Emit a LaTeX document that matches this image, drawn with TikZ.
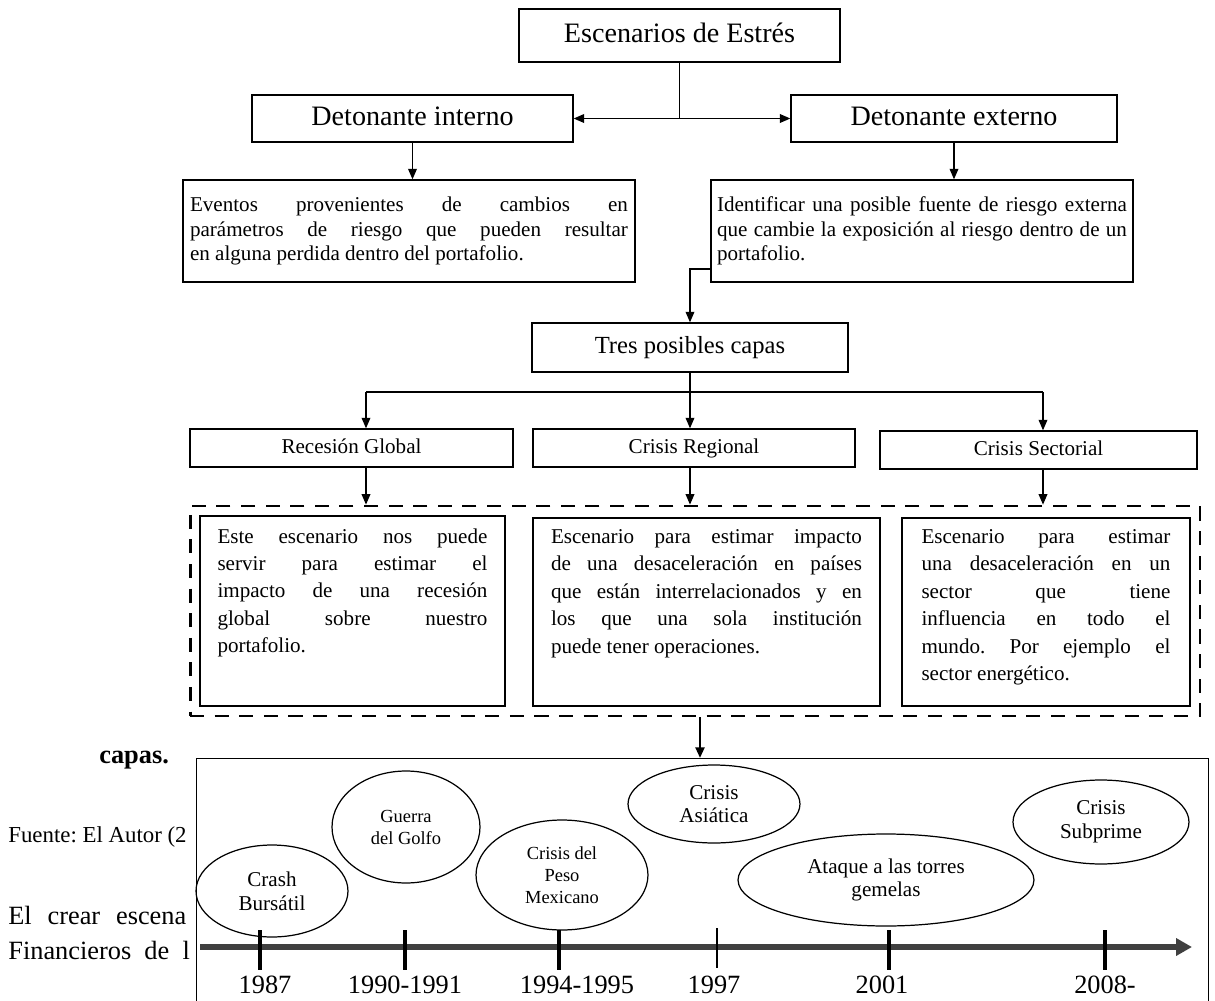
\documentclass[tikz,border=0pt]{standalone}
\usepackage{fontspec}
\setmainfont{Liberation Serif}
\usetikzlibrary{arrows.meta,shapes.geometric}
\newcommand{\justa}[1]{\makebox[\linewidth][s]{#1}\\}
\frenchspacing

\begin{document}
\begin{tikzpicture}[x=0.02cm, y=-0.02cm,
    caja/.style={draw, line width=0.8pt, inner sep=0pt, align=center},
    titulo/.style={caja, text height=11.5pt, text depth=3.5pt, font=\fontsize{16}{19}\selectfont},
    texto/.style={caja, font=\fontsize{12}{14}\selectfont},
    capa/.style={caja, minimum height=0.76cm, text height=8.5pt, text depth=2.5pt, font=\fontsize{12}{14}\selectfont},
    escenario/.style={caja, font=\fontsize{12}{15.6}\selectfont},
    elipse/.style={draw, ellipse, line width=0.7pt, inner sep=0pt, align=center, font=\fontsize{12}{13.5}\selectfont},
    flecha/.style={line width=0.7pt, -{Triangle[length=6pt,width=5pt]}},
    suelto/.style={anchor=west, inner sep=0pt}]
  \clip (0,0) rectangle (1215,1001);

  \node[titulo, minimum width=6.42cm, minimum height=1.06cm] (estres) at (679.5,35.5) {Escenarios de Estrés};
  \node[titulo, minimum width=6.42cm, minimum height=0.94cm] (interno) at (412.5,118.5) {Detonante interno};
  \node[titulo, minimum width=6.52cm, minimum height=0.94cm] (externo) at (954,118.5) {Detonante externo};
  \node[texto, minimum width=9.04cm, minimum height=2.04cm] (eventos) at (409,231) {\parbox{8.76cm}{\justa{Eventos provenientes de cambios en}\justa{parámetros de riesgo que pueden resultar}en alguna perdida dentro del portafolio.}};
  \node[texto, minimum width=8.44cm, minimum height=2.04cm] (identificar) at (922,231) {\parbox{8.2cm}{\justa{Identificar una posible fuente de riesgo externa}\justa{que cambie la exposición al riesgo dentro de un}portafolio.}};
  \node[caja, font=\fontsize{14}{17}\selectfont, minimum width=6.32cm, minimum height=0.98cm] (tres) at (690,347.5) {Tres posibles capas};

  \node[capa, minimum width=6.46cm] (recesion) at (351.5,448) {Recesión Global};
  \node[capa, minimum width=6.44cm] (regional) at (694,448) {Crisis Regional};
  \node[capa, minimum width=6.34cm] (sectorial) at (1038.5,450) {Crisis Sectorial};

  \node[draw, line width=1.6pt, dash pattern=on 8pt off 6pt, minimum width=20.2cm, minimum height=4.2cm] (grupo) at (695,611) {};
  \node[escenario, minimum width=6.1cm, minimum height=3.8cm] (esc1) at (352.5,611) {\parbox[c][3.3cm][t]{5.4cm}{\justa{Este escenario nos puede}\justa{servir para estimar el}\justa{impacto de una recesión}\justa{global sobre nuestro}portafolio.}};
  \node[escenario, minimum width=6.94cm, minimum height=3.76cm] (esc2) at (706.5,612) {\parbox[c][3.3cm][t]{6.22cm}{\justa{Escenario para estimar impacto}\justa{de una desaceleración en países}\justa{que están interrelacionados y en}\justa{los que una sola institución}puede tener operaciones.}};
  \node[escenario, minimum width=5.76cm, minimum height=3.76cm] (esc3) at (1046,612) {\parbox[c][3.3cm][t]{4.98cm}{\justa{Escenario para estimar}\justa{una desaceleración en un}\justa{sector que tiene}\justa{influencia en todo el}\justa{mundo. Por ejemplo el}sector energético.}};

  \coordinate (cruce) at (estres.south |- interno.east);
  \draw[line width=0.7pt] (estres.south) -- (cruce);
  \draw[flecha] (cruce) -- (interno.east);
  \draw[flecha] (cruce) -- (externo.west);
  \draw[flecha] (interno.south) -- (interno.south |- eventos.north);
  \draw[flecha] (externo.south) -- (externo.south |- identificar.north);
  \draw[flecha] (identificar.west |- 0,269) -| (tres.north);

  \coordinate (r1) at (366,392);
  \coordinate (r2) at (tres.south |- r1);
  \coordinate (r3) at (1043,392);
  \draw[line width=0.7pt] (tres.south) -- (r2);
  \draw[line width=0.7pt] (r1) -- (r3);
  \foreach \r/\c in {r1/recesion, r2/regional, r3/sectorial}{
    \draw[flecha] (\r) -- (\r |- \c.north);
    \draw[flecha] (\r |- \c.south) -- (\r |- grupo.north);
  }

  \node[suelto, font=\fontsize{15}{18}\selectfont\bfseries] (capas) at (99,760) {capas.};
  \node[suelto, font=\fontsize{13}{15}\selectfont] (fuente) at (8,837) {Fuente: El Autor (2};
  \node[suelto, font=\fontsize{15}{18}\selectfont] (crear) at (8,915) {\spaceskip=0.6em plus 0.1em El crear escena};
  \node[suelto, font=\fontsize{15}{18}\selectfont] (financieros) at (8,950) {\spaceskip=0.5em plus 0.1em Financieros de l};

  \node[draw, fill=white, line width=0.6pt, anchor=north west, minimum width=20.24cm, minimum height=6cm] (linea) at (196,758) {};
  \draw[flecha, line width=1.4pt] (grupo.south -| 700,0) -- (linea.north -| 700,0);

  \node[elipse, minimum width=3.04cm, minimum height=1.84cm] (crash) at (272,891) {Crash\\Bursátil};
  \node[elipse, font=\fontsize{10.5}{12.5}\selectfont, minimum width=2.96cm, minimum height=2.24cm] (guerra) at (406,827) {Guerra\\del Golfo};
  \node[elipse, font=\fontsize{10.5}{12.5}\selectfont, minimum width=3.44cm, minimum height=2.2cm] (peso) at (562,875) {Crisis del\\Peso\\Mexicano};
  \node[elipse, minimum width=3.44cm, minimum height=1.56cm] (asiatica) at (714,804) {Crisis\\Asiática};
  \node[elipse, minimum width=5.92cm, minimum height=1.84cm] (ataque) at (886,880) {Ataque a las torres\\gemelas};
  \node[elipse, minimum width=3.52cm, minimum height=1.68cm] (subprime) at (1101,822) {Crisis\\Subprime};

  \coordinate (ejeA) at (200,947);
  \coordinate (ejeB) at (1192,947);
  \draw[line width=3pt, black!75, -{Triangle[length=9pt,width=9.5pt]}] (ejeA) -- (ejeB);
  \foreach \x/\lx/\anio in {260/265/1987, 405/405/1990-1991, 559/577/1994-1995, 889/882/2001, 1105/1105/2008-}{
    \draw[line width=2.5pt] (\x,930) -- (\x,970);
    \node[font=\fontsize{15}{18}\selectfont] (a\x) at (\lx,985) {\anio};
  }
  \draw[line width=1pt] (717,928) -- (717,968);
  \node[font=\fontsize{15}{18}\selectfont] (a717) at (714,985) {1997};
\end{tikzpicture}
\end{document}
